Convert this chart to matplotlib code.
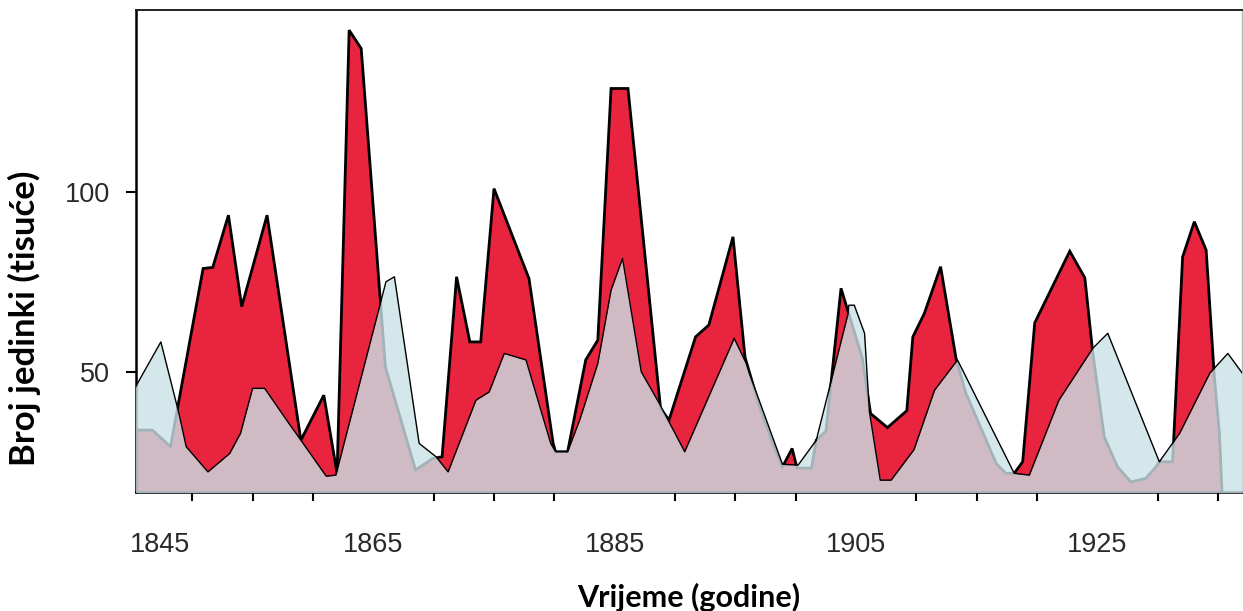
import matplotlib
matplotlib.use("Agg")
import matplotlib.pyplot as plt
from matplotlib.ticker import FixedLocator, MultipleLocator, NullFormatter

# ---- data (thousands of individuals) ----
hare_years = [1845.3, 1846.7, 1848.2, 1850.9, 1851.7, 1853.0, 1854.1, 1856.2, 1859.0, 1860.9,
              1862.0, 1863.0, 1864.0, 1866.0, 1868.5, 1869.9, 1870.7, 1871.9, 1873.0, 1873.9,
              1875.0, 1877.9, 1879.9, 1880.1, 1881.1, 1882.6, 1883.6, 1884.7, 1886.1, 1888.8,
              1889.5, 1891.7, 1892.8, 1894.8, 1895.8, 1897.0, 1898.0, 1898.9, 1899.7, 1900.1,
              1901.3, 1901.7, 1902.5, 1903.75, 1904.3, 1905.5, 1906.2, 1907.6, 1909.2, 1909.7,
              1910.65, 1912.0, 1913.3, 1914.1, 1916.6, 1917.4, 1918.1, 1918.8, 1919.8, 1922.7,
              1923.95, 1924.6, 1925.56, 1926.66, 1927.77, 1929.0, 1929.85, 1930.12, 1931.22, 1932.05,
              1933.02, 1934.0, 1934.68, 1935.1, 1935.4, 1937.0]
hare_values = [33.8, 33.8, 29.2, 78.7, 79.0, 93.5, 68.1, 93.5, 31.0, 43.5,
               21.8, 144.9, 139.8, 51.4, 22.7, 25.9, 26.4, 76.4, 58.3, 58.3,
               100.9, 75.9, 30.1, 27.8, 27.8, 53.3, 58.8, 128.7, 128.7, 39.8,
               36.6, 59.7, 63.0, 87.5, 54.0, 40.3, 31.0, 23.6, 28.7, 23.3,
               23.2, 31.0, 33.5, 73.2, 67.1, 54.0, 38.4, 34.5, 39.2, 59.7,
               66.2, 79.2, 53.3, 44.0, 24.6, 21.8, 21.8, 25.0, 63.6, 83.5,
               76.1, 55.5, 31.9, 23.6, 19.4, 20.4, 23.6, 25.0, 25.0, 81.9,
               91.7, 83.8, 48.6, 32.9, 10.0, 10.0]

lynx_years = [1845.3, 1847.4, 1848.9, 1849.5, 1851.3, 1853.1, 1854.0, 1855.0, 1856.0, 1858.0,
              1859.0, 1861.1, 1861.9, 1866.05, 1866.75, 1868.8, 1870.2, 1871.2, 1873.5, 1874.6,
              1875.85, 1877.65, 1879.7, 1880.1, 1881.1, 1882.1, 1883.6, 1884.7, 1885.65, 1887.2,
              1888.7, 1890.8, 1894.9, 1895.9, 1896.15, 1898.9, 1900.2, 1901.7, 1904.3, 1904.4,
              1904.85, 1905.7, 1906.1, 1907.0, 1907.9, 1909.8, 1911.5, 1913.4, 1918.1, 1919.35,
              1921.8, 1924.6, 1925.85, 1930.12, 1931.8, 1934.3, 1935.8, 1937.0]
lynx_values = [45.8, 58.3, 38.4, 29.2, 22.2, 27.3, 32.9, 45.4, 45.4, 35.7,
               31.0, 21.0, 21.3, 75.0, 76.4, 30.1, 26.4, 22.2, 42.1, 44.4,
               55.1, 53.3, 30.1, 27.8, 27.8, 36.6, 52.3, 72.7, 81.5, 50.0,
               41.2, 27.8, 59.3, 52.3, 49.6, 24.3, 24.1, 31.0, 65.7, 68.5,
               68.5, 60.7, 39.0, 19.9, 19.9, 28.4, 44.9, 53.3, 21.8, 21.3,
               42.1, 56.5, 60.7, 25.0, 32.9, 49.6, 55.1, 49.6]

xtick_positions = [1847.35, 1865, 1885, 1905, 1925]
xtick_labels = ["1845", "1865", "1885", "1905", "1925"]
ytick_values = [50, 100]

HARE_RED = "#e8243f"
LYNX_BLUE = "#cae1e7"

fig = plt.figure(figsize=(12.43, 6.11), dpi=100)
ax = fig.add_axes([0.1094, 0.1953, 0.8896, 0.7883])

ax.fill_between(hare_years, 0, hare_values, color=HARE_RED, linewidth=0, zorder=1)
ax.plot(hare_years, hare_values, color="black", lw=2.0, zorder=2, solid_joinstyle="miter")
ax.fill_between(lynx_years, 0, lynx_values, color=LYNX_BLUE, alpha=0.8, linewidth=0, zorder=3)
ax.plot(lynx_years, lynx_values, color="black", lw=1.0, zorder=4)

ax.set_xlim(1845.34, 1936.95)
ax.set_ylim(16.7, 150.5)

ax.xaxis.set_major_locator(FixedLocator(xtick_positions))
ax.set_xticklabels(xtick_labels)
ax.xaxis.set_minor_locator(MultipleLocator(5))
ax.xaxis.set_minor_formatter(NullFormatter())
ax.tick_params(axis="x", which="major", length=0, pad=29, labelsize=19.5, labelcolor="#2a2a2a")
ax.tick_params(axis="x", which="minor", direction="out", length=6.5, width=1.5, color="black")

ax.set_yticks(ytick_values)
ax.tick_params(axis="y", which="major", direction="out", length=7, width=1.5, pad=11.5,
               labelsize=19.5, labelcolor="#2a2a2a", color="black")
for lab in ax.get_xticklabels() + ax.get_yticklabels():
    lab.set_family("Liberation Sans")

ax.spines["left"].set_linewidth(1.8)
ax.spines["bottom"].set_linewidth(1.8)
ax.spines["top"].set_linewidth(1.4)
ax.spines["top"].set_color("#222222")
ax.spines["right"].set_linewidth(1.0)
ax.spines["right"].set_color("#bbbbbb")

ax.set_xlabel("Vrijeme (godine)", fontsize=22, fontweight="bold", family="Lato")
ax.xaxis.set_label_coords(0.5, -0.2186)
ax.xaxis.label.set_va("center")
ax.set_ylabel("Broj jedinki (tisuće)", fontsize=25, fontweight="bold", family="Lato")
ax.yaxis.set_label_coords(-0.101, 0.3606)
ax.yaxis.label.set_va("center")

fig.savefig("out.png", dpi=100)
